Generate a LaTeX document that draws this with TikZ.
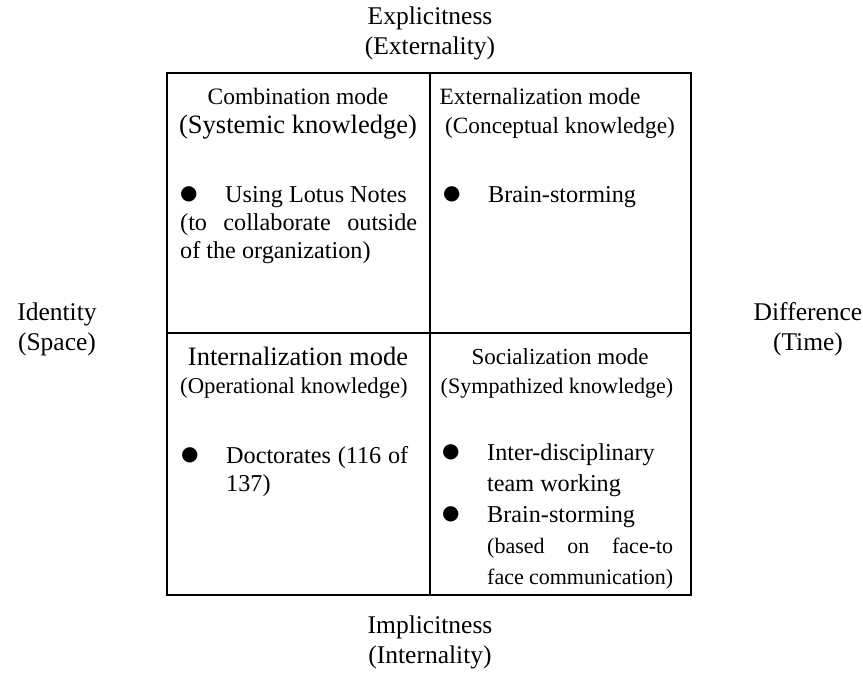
\documentclass[tikz,border=0pt]{standalone}
\usepackage{fontspec}
\setmainfont{Liberation Serif}
\newfontfamily\bulfont{DejaVu Sans}
\usetikzlibrary{positioning}

\newcommand{\kbul}{\makebox[45pt][l]{\raisebox{3pt}{\bulfont\fontsize{20}{20}\selectfont ●}}}
\newcommand{\kitem}{\hangindent=45pt\hangafter=1\kbul}

\begin{document}
\begin{tikzpicture}
[x=1pt,y=-1pt,
  gridLine/.style={draw,line width=2.7pt},
  axisDecorate/.style={align=center,inner sep=0pt,font=\fontsize{25.5}{30}\selectfont},
  titleDecorate/.style={anchor=base,inner sep=0pt},
  listDecorate/.style={anchor=base west,inner sep=0pt,align=justify,font=\fontsize{24.2}{28}\selectfont}]
\useasboundingbox (0,0) rectangle (863,675);
%% frame and dividing lines
\draw[gridLine] (167,73) rectangle (691,595);
\draw[gridLine] (430,73) -- (430,595);
\draw[gridLine] (167,333) -- (691,333);
%% axis labels
\node (explicit) at (430,33) [axisDecorate] {Explicitness\\(Externality)};
\node (implicit) at (430,642) [axisDecorate] {Implicitness\\(Internality)};
\node (identity) at (57,329) [axisDecorate] {Identity\\(Space)};
\node (difference) at (808,329) [axisDecorate] {Difference\\(Time)};
%% mode titles
\foreach \nodename/\x/\y/\size/\words in {
  combtitle/298/104/23.5/Combination mode, combsub/298/133/26.5/(Systemic knowledge),
  exttitle/540/104/23.4/Externalization mode, extsub/560/133/23.3/(Conceptual knowledge),
  interntitle/298/365/26.5/Internalization mode, internsub/294/393/22.7/(Operational knowledge),
  socialtitle/560/364/23/Socialization mode, socialsub/557/393/22.1/(Sympathized knowledge)}
{
  \node (\nodename) at (\x,\y) [titleDecorate,font=\fontsize{\size}{\size}\selectfont] {\words};
}
%% practices in each mode
\node (comblist) at (180,202) [listDecorate,text width=237pt]
  {\kbul Using Lotus Notes\\ (to collaborate outside\linebreak of the organization)};
\node (extlist) at (443,202) [listDecorate,text width=237pt] {\kbul Brain-storming};
\node (internlist) at (181,463) [listDecorate,text width=227pt]
  {\kitem Doctorates (116 of\linebreak 137)\par};
\node (sociallist) at (442,460) [listDecorate,text width=231pt,font=\fontsize{24.2}{31}\selectfont]
  {\kitem Inter-disciplinary\\ team working\par
   \kitem Brain-storming\\ {\fontsize{22}{22}\selectfont (based on face-to\linebreak face communication)}\par};
\end{tikzpicture}
\end{document}
